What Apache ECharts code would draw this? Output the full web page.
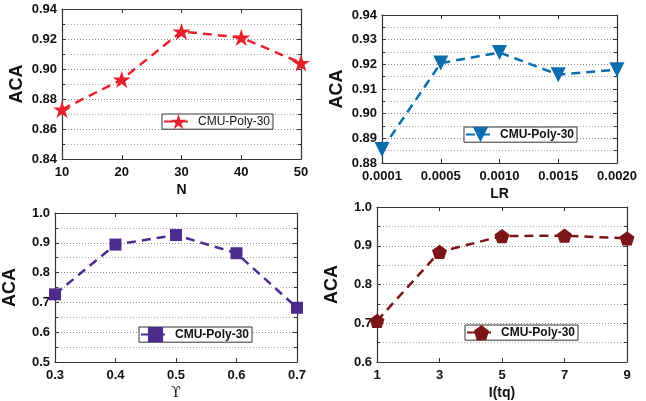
<!DOCTYPE html>
<html><head><meta charset="utf-8">
<script src="https://cdn.jsdelivr.net/npm/echarts@6/dist/echarts.min.js"></script>
<style>html,body{margin:0;padding:0;background:#fff}#c{width:646px;height:401px}</style>
</head><body><div id="c"></div>
<script>
// ---- data ----
const nCats = ['10','20','30','40','50'];
const nVals = [0.873, 0.893, 0.925, 0.921, 0.904];
const lrCats = ['0.0001','0.0005','0.0010','0.0015','0.0020'];
const lrVals = [0.8855, 0.9205, 0.9248, 0.9158, 0.9178];
const gCats = ['0.3','0.4','0.5','0.6','0.7'];
const gVals = [0.727, 0.894, 0.926, 0.865, 0.682];
const tCats = ['1','3','5','7','9'];
const tVals = [0.706, 0.884, 0.925, 0.926, 0.919];
const legendName = 'CMU-Poly-30';
const xNames = ['N','LR','ϒ','I(tq)'];
const yName = 'ACA';

const FONT = 'Liberation Sans, Arial, sans-serif';
const STAR = 'path://M100,0 L122.45,69.1 L195.1,69.1 L136.33,111.8 L158.78,180.9 L100,138.2 L41.22,180.9 L63.67,111.8 L4.9,69.1 L77.55,69.1 Z';
const PENT = 'path://M100,0 L195.1,69.1 L158.8,180.9 L41.2,180.9 L4.9,69.1 Z';

const grids = [
  {left:62, top:9, width:239, height:150},
  {left:382, top:15, width:235, height:148},
  {left:54, top:213, width:243, height:153},
  {left:377, top:207, width:250, height:157}
];
const yCfg = [
  {min:0.84, max:0.94, interval:0.02, dec:2},
  {min:0.88, max:0.94, interval:0.01, dec:2},
  {min:0.5, max:1.0, interval:0.1, dec:1},
  {min:0.6, max:1.0, interval:0.1, dec:1}
];
const cats = [nCats, lrCats, gCats, tCats];
const vals = [nVals, lrVals, gVals, tVals];
const colors = ['#e8222b', '#0b6dad', '#4d2c8d', '#7c1517'];
const symbols = [STAR, 'triangle', 'rect', PENT];
const symSizes = [18, 15, 12, 15];
const symRot = [0, 180, 0, 0];
const legendPos = [
  {left:162, top:114},
  {left:464, top:127},
  {left:139, top:327},
  {left:465, top:325}
];
const legendBold = ['normal','bold','bold','bold'];
const nameFonts = [FONT, FONT, 'DejaVu Serif, serif', FONT];
const nameWeights = ['bold','bold','normal','bold'];

const axisColor = '#333';
const xAxes = [], yAxes = [], series = [], legends = [];
for (let i = 0; i < 4; i++) {
  const base = {
    type:'category', gridIndex:i, data:cats[i], boundaryGap:false,
    axisLine:{lineStyle:{color:axisColor, width:1.2}},
    axisTick:{inside:true, alignWithLabel:true, length:4, lineStyle:{color:axisColor}}
  };
  xAxes.push(Object.assign({}, base, {
    position:'bottom',
    name:xNames[i], nameLocation:'middle', nameGap:24,
    nameTextStyle:{fontFamily:nameFonts[i], fontWeight:nameWeights[i], fontSize:14, color:'#111'},
    axisLabel:{fontFamily:FONT, fontWeight:'bold', fontSize:13, color:'#111', margin:7}
  }));
  xAxes.push(Object.assign({}, base, {position:'top', axisLabel:{show:false}}));
  const yc = yCfg[i];
  const ybase = {
    type:'value', gridIndex:i, min:yc.min, max:yc.max, interval:yc.interval,
    axisLine:{show:true, lineStyle:{color:axisColor, width:1.2}},
    axisTick:{show:true, inside:true, length:4, lineStyle:{color:axisColor}},
    minorTick:{show:true, splitNumber:2, length:3, lineStyle:{color:axisColor}},
  };
  yAxes.push(Object.assign({}, ybase, {
    position:'left',
    name:yName, nameLocation:'middle', nameGap:36,
    nameTextStyle:{fontFamily:FONT, fontWeight:'bold', fontSize:18, color:'#111'},
    axisLabel:{fontFamily:FONT, fontWeight:'bold', fontSize:13, color:'#111', margin:5,
      formatter: v => v.toFixed(yc.dec)},
    splitLine:{show:true, lineStyle:{color:'#888', type:[1,2], width:1}},
    minorSplitLine:{show:true, lineStyle:{color:'#aaa', type:[1,2], width:1}}
  }));
  yAxes.push(Object.assign({}, ybase, {position:'right', axisLabel:{show:false}, splitLine:{show:false}}));
  const sname = legendName + ' ' + (i+1);
  series.push({
    type:'line', name:sname, xAxisIndex:2*i, yAxisIndex:2*i, data:vals[i],
    symbol:symbols[i], symbolSize:symSizes[i], symbolRotate:symRot[i], symbolKeepAspect:true,
    showAllSymbol:true,
    lineStyle:{color:colors[i], width:2.5, type:[9,6]},
    itemStyle:{color:colors[i]},
    clip:false, z:3
  });
  legends.push({
    left:legendPos[i].left, top:legendPos[i].top, data:[sname],
    formatter: () => legendName,
    itemWidth:29, itemHeight:19, itemGap:4,
    padding:[0,3,0,1], borderColor:'#333', borderWidth:1, backgroundColor:'#fff',
    textStyle:{fontFamily:FONT, fontWeight:legendBold[i], fontSize:12, color:'#111'}
  });
}

const chart = echarts.init(document.getElementById('c'), null, {renderer:'canvas'});
chart.setOption({
  animation:false,
  backgroundColor:'#fff',
  grid:grids,
  xAxis:xAxes,
  yAxis:yAxes,
  legend:legends,
  series:series
});
</script></body></html>
